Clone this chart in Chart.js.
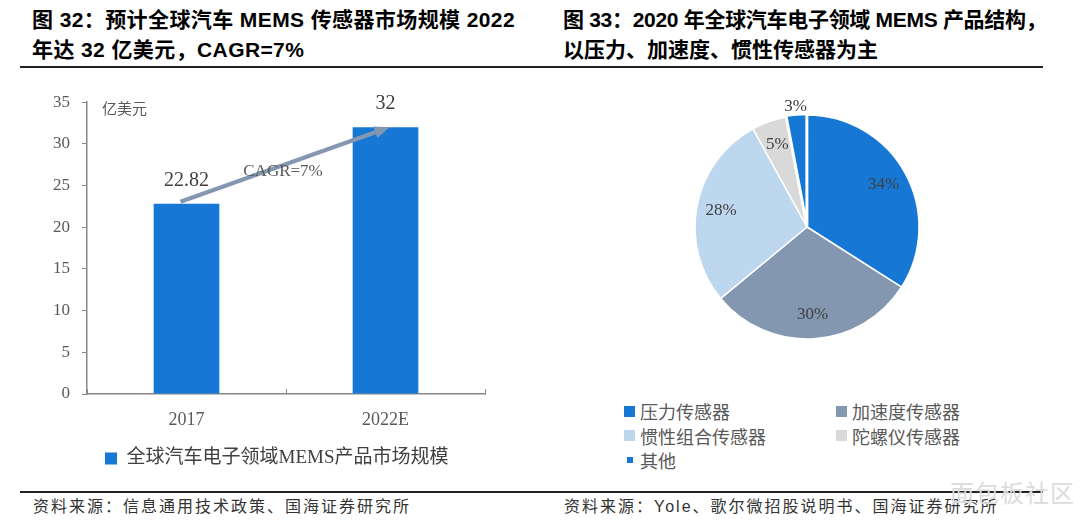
<!DOCTYPE html>
<html lang="zh-CN">
<head>
<meta charset="UTF-8">
<title>汽车 MEMS 传感器市场</title>
<script src="https://cdn.jsdelivr.net/npm/chart.js"></script>
<style>
    body {
        margin: 0;
        width: 1080px;
        height: 526px;
        background: #fff;
        position: relative;
        overflow: hidden;
        font-family: "Liberation Sans", "Noto Sans CJK SC", sans-serif;
    }
    .title {
        position: absolute;
        font-weight: bold;
        font-size: 21px;
        line-height: 30px;
        color: #000;
        white-space: nowrap;
    }
    .rule {
        position: absolute;
        left: 20px;
        width: 1023px;
        height: 2px;
        background: #222;
    }
    .source {
        position: absolute;
        top: 496px;
        font-size: 16px;
        line-height: 22px;
        letter-spacing: 2px;
        color: #333;
        white-space: nowrap;
    }
    .box { position: absolute; }
    #pieLegend {
        position: absolute;
        left: 624px;
        top: 399px;
        display: grid;
        grid-template-columns: 212px 212px;
        grid-auto-rows: 24.5px;
        font-family: "Noto Sans CJK SC", sans-serif;
        font-size: 18px;
        color: #595959;
    }
    #pieLegend .item { display: flex; align-items: center; white-space: nowrap; }
    #pieLegend .sw { width: 11px; height: 11px; margin-right: 5px; flex: none; }
    #pieLegend .sw.small { width: 6px; height: 6px; margin: 0 7px 0 3px; }
    .watermark {
        position: absolute;
        left: 950px;
        top: 474px;
        font-family: "Noto Sans CJK SC", sans-serif;
        font-size: 24px;
        color: #dcdcdc;
        letter-spacing: 1px;
    }
</style>
</head>
<body>
    <div class="title" style="left:32px; top:5px; letter-spacing:0.4px;">图 32：预计全球汽车 MEMS 传感器市场规模 2022</div>
    <div class="title" style="left:32px; top:35px; letter-spacing:0.4px;">年达 32 亿美元，CAGR=7%</div>
    <div class="title" style="left:563px; top:5px; letter-spacing:-0.3px;">图 33：2020 年全球汽车电子领域 MEMS 产品结构，</div>
    <div class="title" style="left:563px; top:35px;">以压力、加速度、惯性传感器为主</div>
    <div class="rule" style="top:66px;"></div>

    <div class="box" style="left:0; top:80px; width:520px; height:400px;">
        <canvas id="barChart"></canvas>
    </div>
    <div class="box" style="left:657px; top:77px; width:300px; height:300px;">
        <canvas id="pieChart"></canvas>
    </div>
    <div id="pieLegend"></div>

    <div class="rule" style="top:491px;"></div>
    <div class="source" style="left:33px;">资料来源：信息通用技术政策、国海证券研究所</div>
    <div class="source" style="left:564px;">资料来源：Yole、歌尔微招股说明书、国海证券研究所</div>
    <div class="watermark">面包板社区</div>

<script>
    // bar chart data
    const barCategories = ['2017', '2022E'];
    const barValues = [22.82, 32];
    const barSeriesName = '全球汽车电子领域MEMS产品市场规模';
    const unitText = '亿美元';
    const cagrText = 'CAGR=7%';

    // pie chart data
    const pieCategories = ['压力传感器', '加速度传感器', '惯性组合传感器', '陀螺仪传感器', '其他'];
    const pieValues = [34, 30, 28, 5, 3];

    const blue = '#1677D4';
    const pieColors = [blue, '#8497B0', '#BDD7EE', '#D9D9D9', blue];
    const serif = "'Liberation Serif', 'Noto Sans CJK SC', serif";

    // value labels, unit label and the CAGR arrow
    const barExtras = {
        id: 'barExtras',
        afterDatasetsDraw(chart) {
            const ctx = chart.ctx;
            const meta = chart.getDatasetMeta(0);
            const xs = chart.scales.x, ys = chart.scales.y;
            ctx.save();

            // unit
            ctx.font = "15px 'Noto Sans CJK SC'";
            ctx.fillStyle = '#595959';
            ctx.textAlign = 'left';
            ctx.textBaseline = 'middle';
            ctx.fillText(unitText, chart.chartArea.left + 15, ys.getPixelForValue(ys.max) + 6);

            // bar values
            ctx.font = '20px ' + serif;
            ctx.fillStyle = '#404040';
            ctx.textAlign = 'center';
            meta.data.forEach((bar, i) => {
                ctx.fillText(String(barValues[i]), bar.x, bar.y - 23);
            });

            // arrow from first bar top to second bar top
            const x0 = xs.getPixelForValue(0) - 6, y0 = ys.getPixelForValue(barValues[0]) - 2;
            const x1 = xs.getPixelForValue(1) + 4, y1 = ys.getPixelForValue(barValues[1]);
            const ang = Math.atan2(y1 - y0, x1 - x0);
            const head = 15;
            ctx.strokeStyle = '#8497B0';
            ctx.fillStyle = '#8497B0';
            ctx.lineWidth = 4;
            ctx.beginPath();
            ctx.moveTo(x0, y0);
            ctx.lineTo(x1 - head * Math.cos(ang), y1 - head * Math.sin(ang));
            ctx.stroke();
            ctx.beginPath();
            ctx.moveTo(x1, y1);
            ctx.lineTo(x1 - head * Math.cos(ang) + 6 * Math.sin(ang), y1 - head * Math.sin(ang) - 6 * Math.cos(ang));
            ctx.lineTo(x1 - head * Math.cos(ang) - 6 * Math.sin(ang), y1 - head * Math.sin(ang) + 6 * Math.cos(ang));
            ctx.closePath();
            ctx.fill();

            // CAGR text
            ctx.font = '17px ' + serif;
            ctx.fillStyle = '#595959';
            ctx.fillText(cagrText, (x0 + x1) / 2 - 2, (y0 + y1) / 2 + 7);
            ctx.restore();
        }
    };

    new Chart(document.getElementById('barChart'), {
        type: 'bar',
        data: {
            labels: barCategories,
            datasets: [{
                label: barSeriesName,
                data: barValues,
                backgroundColor: blue,
                borderWidth: 0,
                categoryPercentage: 1,
                barPercentage: 0.33
            }]
        },
        options: {
            responsive: true,
            maintainAspectRatio: false,
            animation: false,
            layout: { padding: { top: 18, right: 35, bottom: 2, left: 0 } },
            plugins: {
                tooltip: { enabled: false },
                legend: {
                    position: 'bottom',
                    align: 'start',
                    fullSize: false,
                    labels: {
                        boxWidth: 12,
                        boxHeight: 12,
                        padding: 18,
                        color: '#404040',
                        font: { family: serif, size: 19 }
                    }
                }
            },
            scales: {
                x: {
                    grid: { drawOnChartArea: false, drawTicks: true, tickLength: -5, color: '#888' },
                    border: { color: '#888', width: 1.5 },
                    ticks: { color: '#595959', padding: 20, font: { family: serif, size: 18 } },
                    afterFit: s => { s.height = 37; }
                },
                y: {
                    min: 0,
                    max: 35,
                    ticks: { stepSize: 5, color: '#595959', padding: 12, font: { family: serif, size: 17 } },
                    grid: { drawOnChartArea: false, drawTicks: true, tickLength: 5, color: '#888' },
                    border: { color: '#888', width: 1.5 },
                    afterFit: s => { s.width = 87; }
                }
            }
        },
        plugins: [barExtras]
    });

    // percentage labels on the pie
    const pieLabels = {
        id: 'pieLabels',
        afterDatasetsDraw(chart) {
            const ctx = chart.ctx;
            ctx.save();
            ctx.font = '17px ' + serif;
            ctx.fillStyle = '#404040';
            ctx.textAlign = 'center';
            ctx.textBaseline = 'middle';
            chart.getDatasetMeta(0).data.forEach((arc, i) => {
                const p = arc.getProps(['x', 'y', 'startAngle', 'endAngle', 'outerRadius']);
                const mid = (p.startAngle + p.endAngle) / 2;
                const r = p.outerRadius * (pieValues[i] < 4 ? 1.08 : 0.78);
                ctx.fillText(pieValues[i] + '%', p.x + r * Math.cos(mid), p.y + r * Math.sin(mid));
            });
            ctx.restore();
        }
    };

    new Chart(document.getElementById('pieChart'), {
        type: 'pie',
        data: {
            labels: pieCategories,
            datasets: [{
                data: pieValues,
                backgroundColor: pieColors,
                borderColor: '#fff',
                borderWidth: [1.5, 1.5, 1.5, 1.5, 3],
                offset: [0, 0, 0, 0, 3]
            }]
        },
        options: {
            responsive: true,
            maintainAspectRatio: false,
            animation: false,
            radius: 112,
            layout: { padding: 0 },
            plugins: {
                legend: { display: false },
                tooltip: { enabled: false }
            }
        },
        plugins: [pieLabels]
    });

    // pie legend (two columns)
    const legendEl = document.getElementById('pieLegend');
    pieCategories.forEach((name, i) => {
        const item = document.createElement('div');
        item.className = 'item';
        const sw = document.createElement('span');
        sw.className = 'sw' + (i === pieCategories.length - 1 ? ' small' : '');
        sw.style.background = pieColors[i];
        item.appendChild(sw);
        item.appendChild(document.createTextNode(name));
        legendEl.appendChild(item);
    });
</script>
</body>
</html>
